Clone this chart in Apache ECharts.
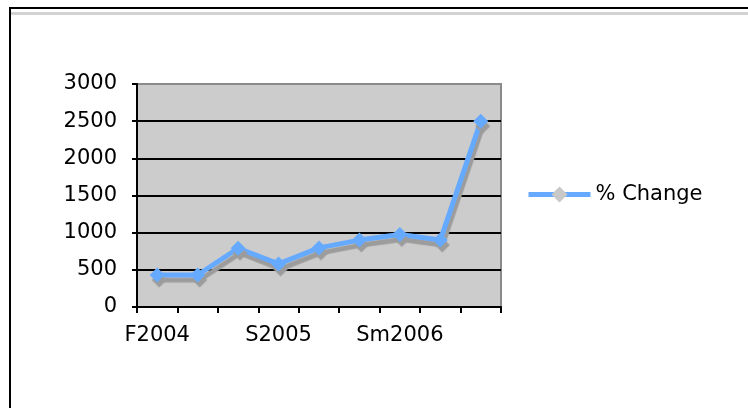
<!DOCTYPE html>
<html>
<head>
<meta charset="utf-8">
<script src="https://cdn.jsdelivr.net/npm/echarts@6/dist/echarts.min.js"></script>
<style>
  html, body { margin: 0; padding: 0; background: #fff; }
  #wrap { position: relative; width: 748px; height: 408px; overflow: hidden; }
  #frame { position: absolute; left: 9px; top: 7px; right: -10px; bottom: -10px;
           border-left: 2px solid #000; border-top: 2px solid #000; }
  #rule { position: absolute; left: 11px; top: 12px; right: 0; height: 3px; background: #d2d2d2; }
  #chart { position: absolute; left: 0; top: 0; width: 748px; height: 408px; }
</style>
</head>
<body>
<div id="wrap">
  <div id="frame"></div>
  <div id="rule"></div>
  <div id="chart"></div>
</div>
<script>
// Terms (only every third one is labelled on the axis)
const terms = ['F2004', 'W2005', 'Sp2005', 'S2005', 'F2005', 'W2006', 'Sm2006', 'F2006', 'W2007'];
// Percentage change per term
const pctChange = [430, 430, 790, 580, 795, 900, 975, 900, 2500];
// Value axis ticks
const yTicks = [0, 500, 1000, 1500, 2000, 2500, 3000];
const seriesName = '% Change';

const font = 'DejaVu Sans';
const blue = '#66aaff';
const shade = '#9c9c9c';

const chart = echarts.init(document.getElementById('chart'), null, { renderer: 'canvas' });
chart.setOption({
  animation: false,
  grid: {
    left: 137, right: 247, top: 84, bottom: 101,
    show: true, backgroundColor: '#cccccc', borderColor: '#8a8a8a', borderWidth: 2
  },
  legend: {
    data: [seriesName],
    left: 521, top: 179,
    itemWidth: 62, itemHeight: 20, itemGap: 4,
    textStyle: { fontFamily: font, fontSize: 21, color: '#000' },
    itemStyle: { color: '#c8c8c8', shadowColor: 'rgba(0,0,0,0)', borderWidth: 0 },
    lineStyle: { color: blue, width: 5, shadowColor: 'rgba(0,0,0,0)' }
  },
  xAxis: {
    type: 'category',
    data: terms,
    boundaryGap: true,
    axisLine: { lineStyle: { color: '#000', width: 2 } },
    axisTick: { show: true, interval: 0, length: 6, lineStyle: { color: '#000', width: 2 } },
    axisLabel: { interval: 2, margin: 18, fontFamily: font, fontSize: 21, color: '#000' },
    splitLine: { show: false }
  },
  yAxis: {
    type: 'value',
    min: yTicks[0], max: yTicks[yTicks.length - 1], interval: yTicks[1] - yTicks[0],
    axisLine: { show: true, lineStyle: { color: '#000', width: 2 } },
    axisTick: { show: true, length: 5, lineStyle: { color: '#000', width: 2 } },
    axisLabel: {
      margin: 20, fontFamily: font, fontSize: 21, color: '#000',
      formatter: v => String(v)
    },
    splitLine: {
      show: true,
      lineStyle: { color: ['#000', '#000', '#000', '#000', '#000', '#000', '#8a8a8a'], width: 2 }
    }
  },
  series: [{
    name: seriesName,
    type: 'line',
    data: pctChange,
    symbol: 'diamond',
    symbolSize: [15, 15],
    showAllSymbol: true,
    lineStyle: { color: blue, width: 5, shadowColor: shade, shadowOffsetX: 2, shadowOffsetY: 5, shadowBlur: 1 },
    itemStyle: { color: blue, borderWidth: 0, shadowColor: shade, shadowOffsetX: 2, shadowOffsetY: 5, shadowBlur: 1 },
    emphasis: { disabled: true }
  }]
});
</script>
</body>
</html>
